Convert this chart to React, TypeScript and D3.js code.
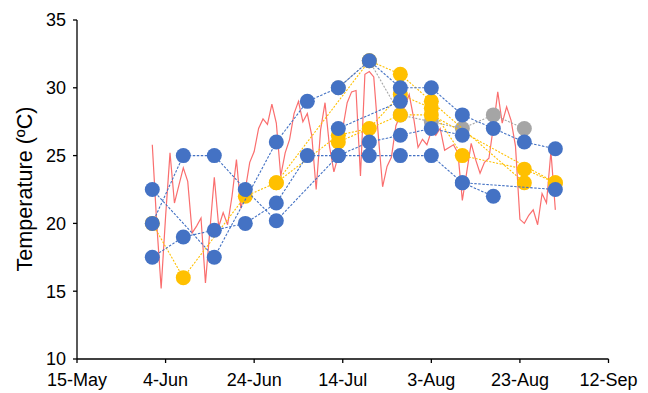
import React from 'react';
import * as d3 from 'd3';

const xTickDates = ['2019-05-15', '2019-06-04', '2019-06-24', '2019-07-14', '2019-08-03', '2019-08-23', '2019-09-12'];
const xTickLabels = ['15-May', '4-Jun', '24-Jun', '14-Jul', '3-Aug', '23-Aug', '12-Sep'];
const yTicks = [10, 15, 20, 25, 30, 35];

const sampleDates = [
  '2019-06-01', '2019-06-08', '2019-06-15', '2019-06-22', '2019-06-29', '2019-07-06', '2019-07-13',
  '2019-07-20', '2019-07-27', '2019-08-03', '2019-08-10', '2019-08-17', '2019-08-24', '2019-08-31',
];

const blue1 = [22.5, null, 17.5, null, 26, 29, 30, 32, 30, 30, 28, 27, 26, 25.5];
const blue2 = [20, 25, 25, 22.5, 20.2, null, 25, 26, 26.5, 27, 26.5, null, null, null];
const blue3 = [17.5, 19, 19.5, 20, 21.5, 25, 25, 25, 25, 25, 23, 22, null, null];
const blue4 = [null, null, null, null, null, null, 27, null, 29, null, null, null, null, null];
const blue5 = [null, null, null, null, null, null, null, null, null, null, 23, null, null, 22.5];

const yellow1 = [20, 16, null, 22, 23, null, 26.5, 27, 29.5, 28.5, 25, null, 24, 23];
const yellow2 = [null, null, null, null, 23, null, null, 32, 31, 29, null, null, 23, null];
const yellow3 = [null, null, null, null, null, null, 26, null, 28, 28, null, null, null, 23];

const grey1 = [null, null, null, null, null, null, 30, 32, 28, 27.5, 27, 28, 27, null];

const dailyStart = '2019-06-01';
const dailyTemp = [
  25.8, 20, 15.2, 20.5, 25.2, 21.5, 22.8, 24.1, 23.1, 19.3, 19.8, 20.4, 15.6, 19.5, 23.4, 19.75,
  20.8, 19.9, 22, 24.7, 21.1, 22.5, 24.5, 25.3, 27, 27.7, 27.3, 28.8, 27.4, 23.5, 25.2, 26.2,
  28.1, 29, 27.5, 28.1, 26.5, 22.5, 26.9, 28.9, 25.7, 23.8, 25, 27, 28.9, 29.7, 29.8, 23.5,
  31, 31.2, 30.8, 26.6, 22.7, 24.2, 24.9, 27.2, 28, 28.6, 29.5, 27.8, 25.6, 26.2, 25.8, 26.8,
  26.5, 27, 25.4, 25.6, 25.8, 25.2, 21.7, 23.8, 25.9, 24.7, 23.7, 24.5, 24.8, 27.1, 29.7, 27.4,
  28.6, 27.6, 25.7, 20.3, 20, 20.6, 21, 19.9, 22.2, 21.5, 25.3, 21,
];

const parse = d3.utcParse('%Y-%m-%d');
const FONT = '"Liberation Sans", Arial, sans-serif';

type Pt = { date: Date; v: number };

function toPoints(vals: (number | null)[]): Pt[] {
  const out: Pt[] = [];
  vals.forEach((v, i) => {
    if (v !== null) out.push({ date: parse(sampleDates[i]) as Date, v });
  });
  return out;
}

export default function App() {
  const width = 648;
  const height = 393;
  const x = d3
    .scaleUtc()
    .domain([parse('2019-05-15') as Date, parse('2019-09-12') as Date])
    .range([77, 608.5]);
  const y = d3.scaleLinear().domain([10, 35]).range([359, 20]);

  const line = d3
    .line<Pt>()
    .x((d) => x(d.date))
    .y((d) => y(d.v));

  const start = parse(dailyStart) as Date;
  const daily: Pt[] = dailyTemp.map((v, i) => ({ date: d3.utcDay.offset(start, i), v }));

  const blueSeries = [blue1, blue2, blue3, blue4, blue5].map(toPoints);
  const yellowSeries = [yellow1, yellow2, yellow3].map(toPoints);
  const greySeries = [grey1].map(toPoints);

  const BLUE = '#4472C4';
  const YELLOW = '#FFC000';
  const GREY = '#A5A5A5';
  const R = 7.5;

  const renderGroup = (series: Pt[][], color: string, dash: string, key: string) => (
    <g key={key}>
      {series.map((s, i) => (
        <path
          key={'l' + i}
          d={line(s) || ''}
          fill="none"
          stroke={color}
          strokeWidth={1.1}
          strokeDasharray={dash}
        />
      ))}
      {series.map((s, i) =>
        s.map((p, j) => <circle key={'c' + i + '-' + j} cx={x(p.date)} cy={y(p.v)} r={R} fill={color} />)
      )}
    </g>
  );

  return (
    <svg
      width={width}
      height={height}
      style={{ position: 'absolute', left: 0, top: 0, background: '#fff' }}
      fontFamily={FONT}
    >
      <rect x={0} y={0} width={width} height={height} fill="#fff" />
      <path d={line(daily) || ''} fill="none" stroke="#FA6E6E" strokeWidth={1.2} />
      {renderGroup(greySeries, GREY, '2 1.5', 'grey')}
      {renderGroup(yellowSeries, YELLOW, '2 1.5', 'yellow')}
      {renderGroup(blueSeries, BLUE, '2.5 1.5', 'blue')}

      {/* y axis */}
      <line x1={77} x2={77} y1={y(35)} y2={y(10)} stroke="#000" strokeWidth={1.3} />
      {yTicks.map((t) => (
        <g key={'yt' + t}>
          <line x1={73} x2={77} y1={y(t)} y2={y(t)} stroke="#000" strokeWidth={1.3} />
          <text x={66} y={y(t)} dy="0.35em" textAnchor="end" fontSize={18} fill="#000">
            {t}
          </text>
        </g>
      ))}
      {/* x axis */}
      <line x1={77} x2={608.5} y1={y(10)} y2={y(10)} stroke="#000" strokeWidth={1.3} />
      {xTickDates.map((d, i) => {
        const xx = x(parse(d) as Date);
        return (
          <g key={'xt' + i}>
            <line x1={xx} x2={xx} y1={y(10)} y2={y(10) + 4} stroke="#000" strokeWidth={1.3} />
            <text x={xx} y={386} textAnchor="middle" fontSize={18} fill="#000">
              {xTickLabels[i]}
            </text>
          </g>
        );
      })}
      <text
        transform={`translate(31.5, 189) rotate(-90)`}
        textAnchor="middle"
        fontSize={21.6}
        fill="#000"
      >
        Temperature (ºC)
      </text>
    </svg>
  );
}
